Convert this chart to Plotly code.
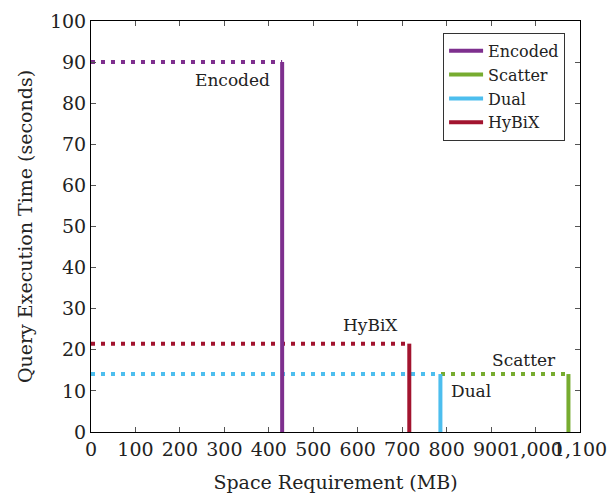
import plotly.graph_objects as go

# Space requirement (MB) and query execution time (s) per index variant
methods = ["Encoded", "Scatter", "Dual", "HyBiX"]
space_mb = [430, 1074, 786, 716]
query_time_s = [90, 14.1, 14.1, 21.5]
colors = ["#7E2F8E", "#77AC30", "#4DBEEE", "#A2142F"]

# label placement relative to each (space, time) corner: (xanchor, yanchor, xshift, yshift)
label_pos = {
    "Encoded": ("right", "middle", -10, -18),
    "Scatter": ("right", "middle", -10, 14),
    "Dual": ("left", "middle", 9, -17),
    "HyBiX": ("right", "middle", -9, 19),
}

x_ticks = list(range(0, 1101, 100))
y_ticks = list(range(0, 101, 10))

FONT = "DejaVu Serif"

fig = go.Figure()

# dotted horizontal guides from the y axis to each point
for name, x, y, c in zip(methods, space_mb, query_time_s, colors):
    fig.add_trace(go.Scatter(
        x=[0, x], y=[y, y], mode="lines",
        line=dict(color=c, width=4, dash="4px,6px"),
        showlegend=False, hoverinfo="skip",
    ))

# solid vertical drops from each point to the x axis
for i, (name, x, y, c) in enumerate(zip(methods, space_mb, query_time_s, colors)):
    fig.add_trace(go.Scatter(
        x=[x, x], y=[0, y], mode="lines", name=name,
        line=dict(color=c, width=4), legendrank=i + 1,
    ))

for name, x, y in zip(methods, space_mb, query_time_s):
    xa, ya, xs, ys = label_pos[name]
    fig.add_annotation(
        x=x, y=y, text=name, showarrow=False,
        xanchor=xa, yanchor=ya, xshift=xs, yshift=ys,
        font=dict(family=FONT, size=17, color="#222"),
    )

axis_common = dict(
    showgrid=False, zeroline=False, showline=True, linecolor="black",
    linewidth=1, mirror="ticks", ticks="inside", ticklen=5, automargin=False,
    tickcolor="#555", tickfont=dict(family=FONT, size=19, color="#222"),
)

fig.update_xaxes(
    range=[0, 1100], tickvals=x_ticks, tickformat=",", tickangle=0,
    title=dict(text="Space Requirement (MB)", font=dict(family=FONT, size=19, color="#222"), standoff=16),
    **axis_common,
)
fig.update_yaxes(
    range=[0, 100], tickvals=y_ticks,
    title=dict(text="Query Execution Time (seconds)", font=dict(family=FONT, size=19, color="#222"), standoff=12),
    **axis_common,
)

fig.update_layout(
    width=609, height=497,
    margin=dict(l=91, r=29, t=21, b=65),
    plot_bgcolor="white", paper_bgcolor="white",
    legend=dict(
        x=0.72, y=0.971, xanchor="left", yanchor="top",
        bgcolor="white", bordercolor="#333", borderwidth=1,
        font=dict(family=FONT, size=16, color="#222"),
        tracegroupgap=0, itemwidth=34,
    ),
)

fig.write_html("out.html")
